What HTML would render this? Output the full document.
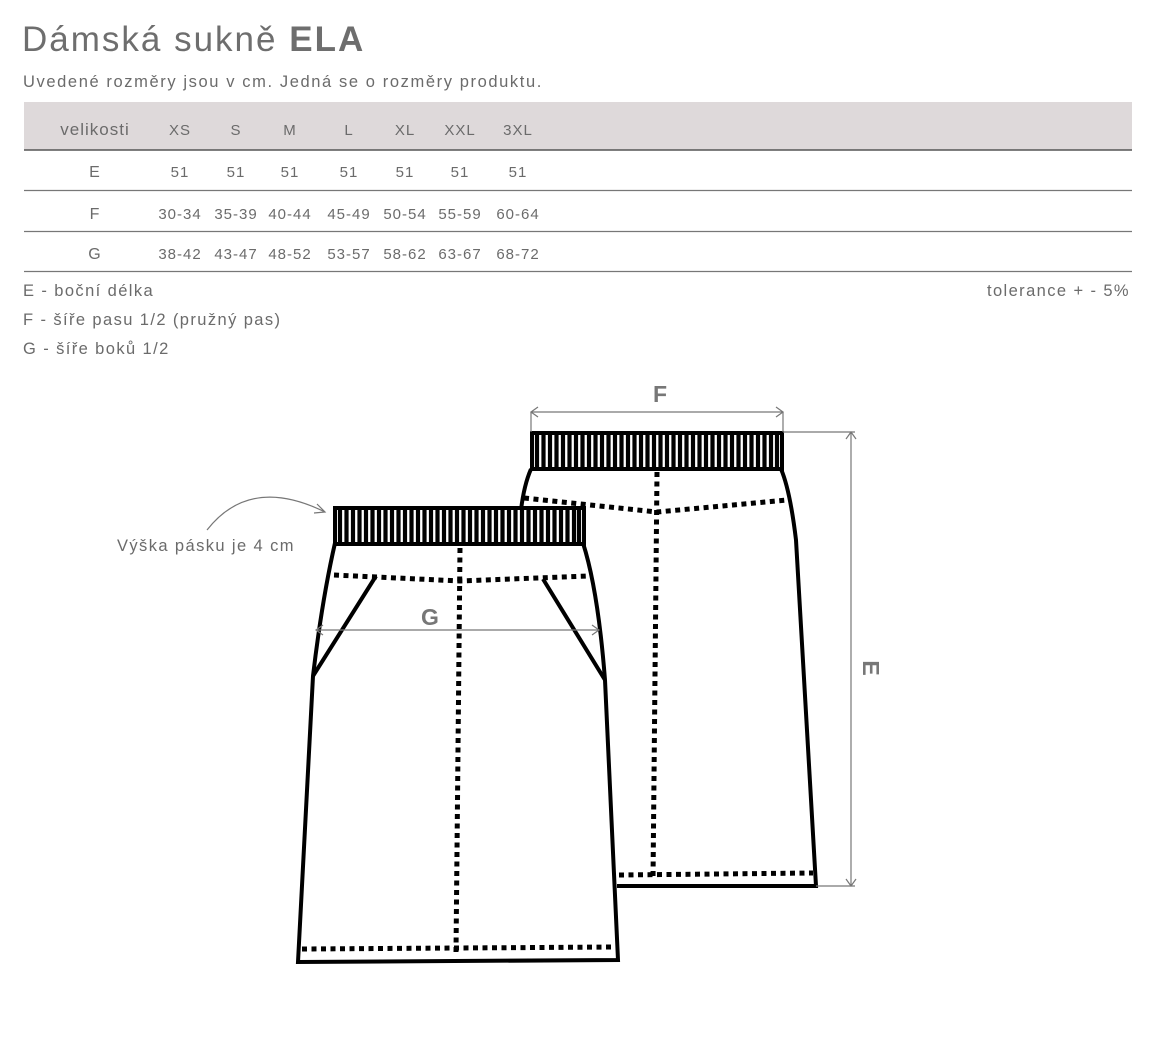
<!DOCTYPE html>
<html><head><meta charset="utf-8"><style>
body{margin:0;background:#fff;width:1151px;height:1047px;overflow:hidden;font-family:"Liberation Sans",sans-serif;color:#6b6b6b;position:relative}
.t{position:absolute;white-space:nowrap}
</style></head><body>
<div class="t" style="left:22px;top:20px;font-size:35px;color:#6e6e6e;letter-spacing:2px">Dámská sukně <b>ELA</b></div>
<div class="t" style="left:23px;top:73px;font-size:16.5px;letter-spacing:1.6px">Uvedené rozměry jsou v cm. Jedná se o rozměry produktu.</div>
<svg width="1151" height="1047" style="position:absolute;left:0;top:0" font-family="Liberation Sans, sans-serif">
<rect x="24" y="102" width="1108" height="48" fill="#ded9da"/>
<line x1="24" y1="150" x2="1132" y2="150" stroke="#555" stroke-width="1.5"/>
<line x1="24" y1="190.5" x2="1132" y2="190.5" stroke="#777" stroke-width="1.2"/>
<line x1="24" y1="231.5" x2="1132" y2="231.5" stroke="#777" stroke-width="1.2"/>
<line x1="24" y1="271.5" x2="1132" y2="271.5" stroke="#777" stroke-width="1.2"/>
<g fill="#6b6b6b" font-size="15" text-anchor="middle" letter-spacing="1">
<text x="95" y="135" font-size="17">velikosti</text>
<text x="180" y="135">XS</text><text x="236" y="135">S</text><text x="290" y="135">M</text><text x="349" y="135">L</text><text x="405" y="135">XL</text><text x="460" y="135">XXL</text><text x="518" y="135">3XL</text>
<text x="95" y="177" font-size="16">E</text>
<text x="180" y="177">51</text><text x="236" y="177">51</text><text x="290" y="177">51</text><text x="349" y="177">51</text><text x="405" y="177">51</text><text x="460" y="177">51</text><text x="518" y="177">51</text>
<text x="95" y="219" font-size="16">F</text>
<text x="180" y="219">30-34</text><text x="236" y="219">35-39</text><text x="290" y="219">40-44</text><text x="349" y="219">45-49</text><text x="405" y="219">50-54</text><text x="460" y="219">55-59</text><text x="518" y="219">60-64</text>
<text x="95" y="259" font-size="16">G</text>
<text x="180" y="259">38-42</text><text x="236" y="259">43-47</text><text x="290" y="259">48-52</text><text x="349" y="259">53-57</text><text x="405" y="259">58-62</text><text x="460" y="259">63-67</text><text x="518" y="259">68-72</text>
</g>
<g fill="#6b6b6b" font-size="16.5" letter-spacing="1.4">
<text x="23" y="296">E - boční délka</text>
<text x="23" y="325">F - šíře pasu 1/2 (pružný pas)</text>
<text x="23" y="354">G - šíře boků 1/2</text>
<text x="1130" y="296" text-anchor="end">tolerance + - 5%</text>
<text x="117" y="551" font-size="16.5">Výška pásku je 4 cm</text>
</g>
<!-- back skirt -->
<g stroke="#000" fill="none" stroke-width="4">
<path d="M531 469 Q524 485 521 510 M781 469 Q790 490 796 540 L816 886 L617 886" fill="none"/>
<rect x="532" y="433" width="250" height="36" fill="#fff"/>
</g>
<g stroke="#000" stroke-width="4.2">
<path d="M537 435 V467 M543.5 435 V467 M550 435 V467 M556.5 435 V467 M563 435 V467 M569.5 435 V467 M576 435 V467 M582.5 435 V467 M589 435 V467 M595.5 435 V467 M602 435 V467 M608.5 435 V467 M615 435 V467 M621.5 435 V467 M628 435 V467 M634.5 435 V467 M641 435 V467 M647.5 435 V467 M654 435 V467 M660.5 435 V467 M667 435 V467 M673.5 435 V467 M680 435 V467 M686.5 435 V467 M693 435 V467 M699.5 435 V467 M706 435 V467 M712.5 435 V467 M719 435 V467 M725.5 435 V467 M732 435 V467 M738.5 435 V467 M745 435 V467 M751.5 435 V467 M758 435 V467 M764.5 435 V467 M771 435 V467 M777 435 V467"/>
</g>
<g stroke="#000" stroke-width="5" stroke-dasharray="5,4.5" fill="none">
<path d="M524 498 L657 512 L787 500"/>
<path d="M657 472 L653 880"/>
<path d="M619 875 L813 873"/>
</g>
<!-- front skirt -->
<path d="M335 543 Q322 600 313 676 L298 962 L618 960 L605 680 Q598 590 583 543 Z" fill="#fff" stroke="#000" stroke-width="4"/>
<rect x="335" y="508" width="249" height="36" fill="#fff" stroke="#000" stroke-width="4"/>
<g stroke="#000" stroke-width="4.2">
<path d="M340 510 V542 M346.5 510 V542 M353 510 V542 M359.5 510 V542 M366 510 V542 M372.5 510 V542 M379 510 V542 M385.5 510 V542 M392 510 V542 M398.5 510 V542 M405 510 V542 M411.5 510 V542 M418 510 V542 M424.5 510 V542 M431 510 V542 M437.5 510 V542 M444 510 V542 M450.5 510 V542 M457 510 V542 M463.5 510 V542 M470 510 V542 M476.5 510 V542 M483 510 V542 M489.5 510 V542 M496 510 V542 M502.5 510 V542 M509 510 V542 M515.5 510 V542 M522 510 V542 M528.5 510 V542 M535 510 V542 M541.5 510 V542 M548 510 V542 M554.5 510 V542 M561 510 V542 M567.5 510 V542 M574 510 V542 M579 510 V542"/>
</g>
<g stroke="#000" stroke-width="4" fill="none">
<path d="M376 576 L313 676 M543 579 L605 680"/>
</g>
<g stroke="#000" stroke-width="5" stroke-dasharray="5,4.5" fill="none">
<path d="M334 575 L460 581 L588 576"/>
<path d="M460 548 L456 952"/>
<path d="M302 949 L614 947"/>
</g>
<!-- dims -->
<g stroke="#777" stroke-width="1.2" fill="none">
<path d="M531 412 H783 M538 407 L531 412 L538 417 M776 407 L783 412 L776 417 M531 412 V432 M783 412 V432"/>
<path d="M316 630 H599 M323 625 L316 630 L323 635 M592 625 L599 630 L592 635"/>
<path d="M783 432 H855 M816 886 H855 M851 432 V886 M846 439 L851 432 L856 439 M846 879 L851 886 L856 879"/>
<path d="M207 530 Q250 475 325 512 M317 504 L325 512 L314 513"/>
</g>
<g fill="#777" font-weight="bold" font-size="23" text-anchor="middle">
<text x="660" y="402">F</text>
<text x="430" y="625">G</text>
<text x="0" y="0" transform="translate(863,668) rotate(90)">E</text>
</g>
</svg>
</body></html>
